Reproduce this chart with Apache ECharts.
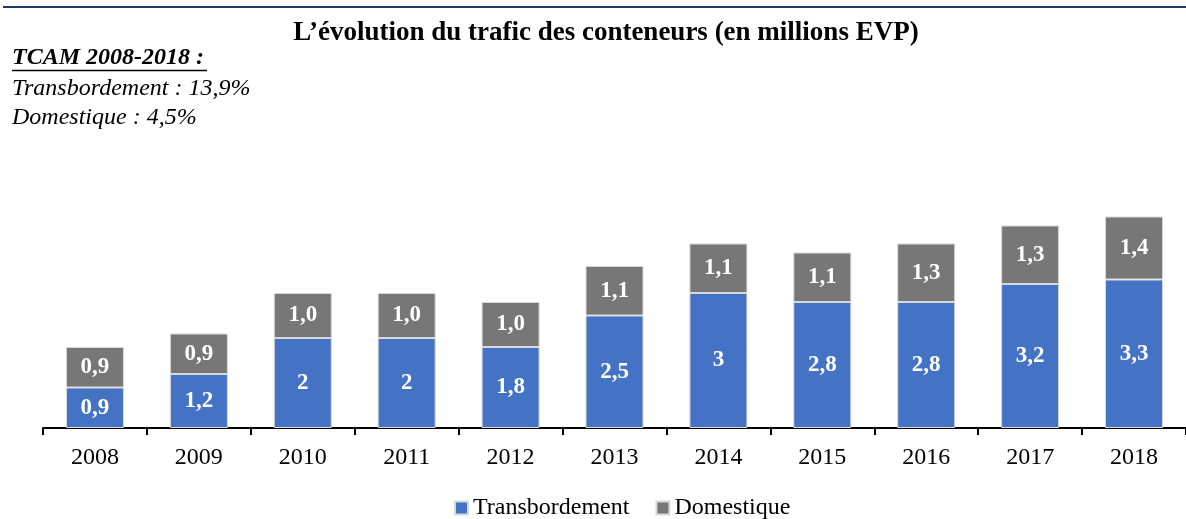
<!DOCTYPE html>
<html>
<head>
<meta charset="utf-8">
<script src="https://cdn.jsdelivr.net/npm/echarts@6/dist/echarts.min.js"></script>
<style>
  html, body { margin: 0; padding: 0; background: #fff; }
  #chart { width: 1186px; height: 519px; }
</style>
</head>
<body>
<div id="chart"></div>
<script>
// données (millions EVP)
var years = ["2008", "2009", "2010", "2011", "2012", "2013", "2014", "2015", "2016", "2017", "2018"];
var transbordement = [0.9, 1.2, 2, 2, 1.8, 2.5, 3, 2.8, 2.8, 3.2, 3.3];
var domestique = [0.9, 0.9, 1.0, 1.0, 1.0, 1.1, 1.1, 1.1, 1.3, 1.3, 1.4];

var serif = "'Liberation Serif', 'Times New Roman', serif";
var chart = echarts.init(document.getElementById("chart"));

var barLabel = {
  show: true,
  position: "inside",
  color: "#fff",
  fontFamily: serif,
  fontWeight: "bold",
  fontSize: 23
};

chart.setOption({
  animation: false,
  color: ["#4472C4", "#777777"],
  title: {
    text: "L\u2019évolution du trafic des conteneurs (en millions EVP)",
    left: 601,
    textAlign: "center",
    top: 15,
    textStyle: {
      fontFamily: serif,
      fontWeight: "bold",
      fontSize: 27,
      color: "#000"
    }
  },
  graphic: [
    {
      type: "rect",
      shape: { x: 3, y: 6, width: 1183, height: 2 },
      style: { fill: "#1F3864" }
    },
    {
      type: "text",
      left: 12,
      top: 46,
      style: {
        text: "TCAM 2008-2018 :",
        font: "italic bold 24px " + serif,
        fill: "#000"
      }
    },
    {
      type: "line",
      shape: { x1: 12, y1: 70.5, x2: 207, y2: 70.5 },
      style: { stroke: "#000", lineWidth: 1.5 }
    },
    {
      type: "text",
      left: 12,
      top: 77,
      style: {
        text: "Transbordement : 13,9%",
        font: "italic 24px " + serif,
        fill: "#000"
      }
    },
    {
      type: "text",
      left: 12,
      top: 106,
      style: {
        text: "Domestique : 4,5%",
        font: "italic 24px " + serif,
        fill: "#000"
      }
    }
  ],
  legend: {
    left: 449,
    top: 491,
    itemWidth: 13,
    itemHeight: 13,
    itemGap: 26,
    icon: "rect",
    data: ["Transbordement", "Domestique"],
    textStyle: {
      fontFamily: serif,
      fontSize: 24,
      color: "#000"
    }
  },
  grid: {
    left: 43,
    top: 203,
    width: 1149,
    height: 225
  },
  xAxis: {
    type: "category",
    data: years,
    axisLine: { lineStyle: { color: "#000", width: 2 } },
    axisTick: { show: true, length: 7, lineStyle: { color: "#000", width: 2 } },
    axisLabel: {
      margin: 18,
      color: "#000",
      fontFamily: serif,
      fontSize: 24
    }
  },
  yAxis: {
    type: "value",
    min: 0,
    max: 5,
    show: false,
    splitLine: { show: false }
  },
  series: [
    {
      name: "Transbordement",
      type: "bar",
      stack: "total",
      barWidth: 58,
      itemStyle: { borderColor: "#d9d9d9", borderWidth: 1 },
      label: Object.assign({}, barLabel, {
        formatter: function (p) { return String(p.value).replace(".", ","); }
      }),
      data: transbordement
    },
    {
      name: "Domestique",
      type: "bar",
      stack: "total",
      barWidth: 58,
      itemStyle: { borderColor: "#d9d9d9", borderWidth: 1 },
      label: Object.assign({}, barLabel, {
        formatter: function (p) { return p.value.toFixed(1).replace(".", ","); }
      }),
      data: domestique
    }
  ]
});
</script>
</body>
</html>
